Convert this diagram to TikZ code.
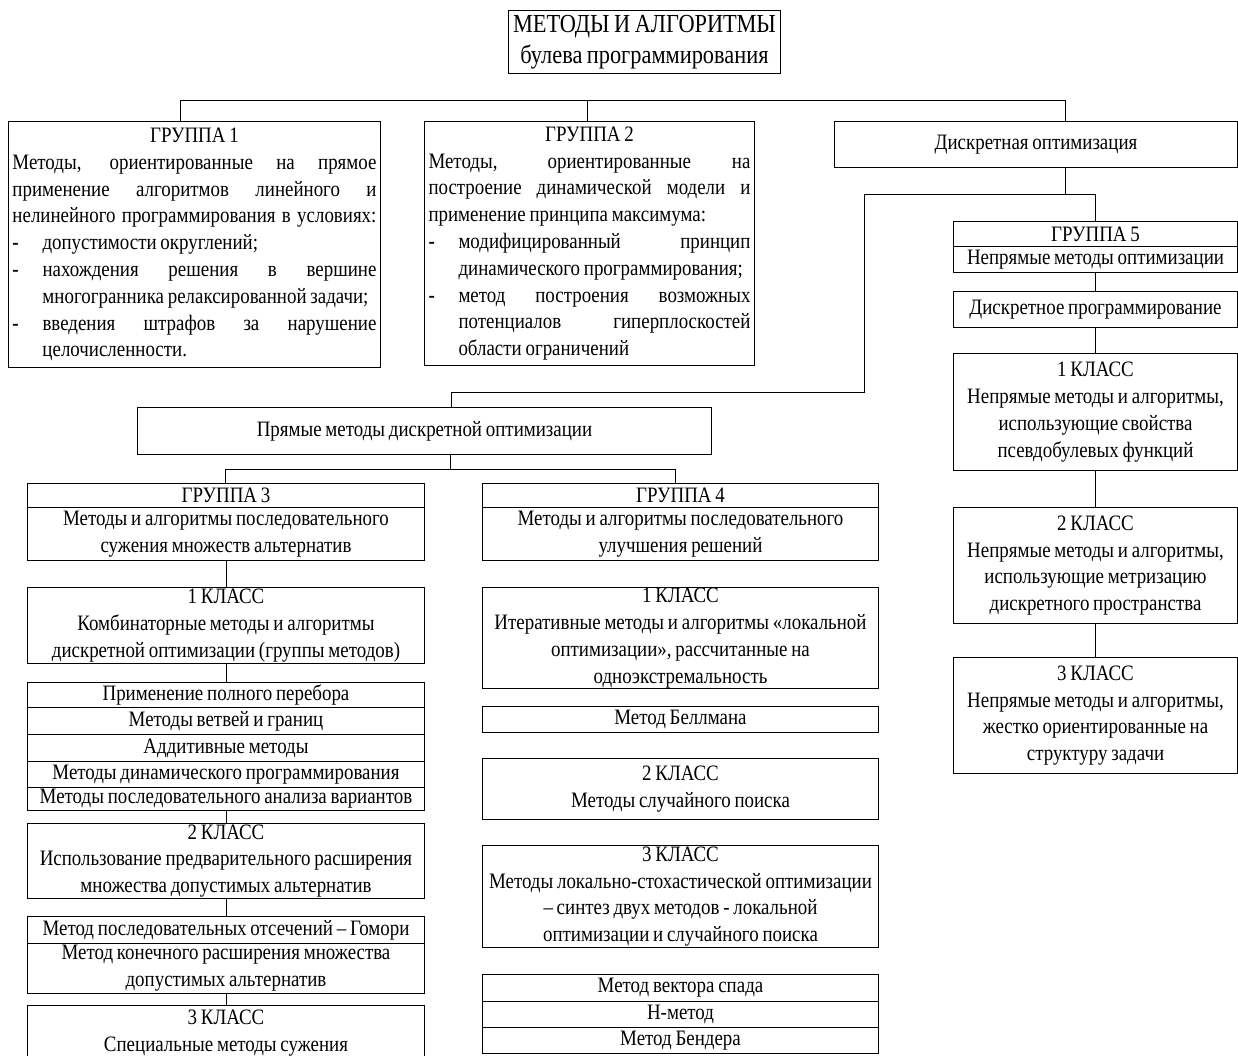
\documentclass[tikz,border=0pt]{standalone}
\usepackage{fontspec}
\setmainfont{Liberation Serif}[FakeStretch=0.86,WordSpace=0.8]
\newcommand\fs{\fontsize{22}{26.8}\selectfont}
\newcommand\fst{\fontsize{26}{31}\selectfont}
\newcommand\J[2]{{\spaceskip=4pt plus 1fil\xspaceskip=\spaceskip\makebox[#1pt][s]{#2}}}
\newcommand\Ln[1]{\mbox{#1}}
\newcommand\D{\makebox[30pt][l]{\textbf{-}}}
\newcommand\bx[6]{\node[box, minimum width={#4-#2}, minimum height={#5-#3}] (#1) at (#2,#3) {#6};}
\begin{document}
\begin{tikzpicture}[x=1pt,y=-1pt,
  box/.style={draw, line width=1pt, inner sep=0pt, align=center, font=\fs, anchor=north west},
  ln/.style={line width=1pt}]
\useasboundingbox (0,0) rectangle (1238,1055);
\clip (0,0) rectangle (1238,1055);
\fill[white] (0,0) rectangle (1238,1055);

% title
\node[box, font=\fst, minimum width=272, minimum height=63] (title) at (508,10)
  {МЕТОДЫ И АЛГОРИТМЫ\\булева программирования};

% group 1
\node[box, minimum width=372, minimum height=246, text width=364, align=left] (g1) at (8,121) {%
\spaceskip=0pt\xspaceskip=0pt
\makebox[364pt]{ГРУППА 1}\\
\J{364}{Методы, ориентированные на прямое}\\
\J{364}{применение алгоритмов линейного и}\\
\J{364}{нелинейного программирования в условиях:}\\
\D\Ln{допустимости округлений;}\\
\D\J{334}{нахождения решения в вершине}\\
\hspace*{30pt}\Ln{многогранника релаксированной задачи;}\\
\D\J{334}{введения штрафов за нарушение}\\
\hspace*{30pt}\Ln{целочисленности.}};

% group 2
\node[box, minimum width=330, minimum height=244, text width=322, align=left] (g2) at (424,121) {%
\spaceskip=0pt\xspaceskip=0pt
\makebox[322pt]{ГРУППА 2}\\
\J{322}{Методы, ориентированные на}\\
\J{322}{построение динамической модели и}\\
\Ln{применение принципа максимума:}\\
\D\J{292}{модифицированный принцип}\\
\hspace*{30pt}\Ln{динамического программирования;}\\
\D\J{292}{метод построения возможных}\\
\hspace*{30pt}\J{292}{потенциалов гиперплоскостей}\\
\hspace*{30pt}\Ln{области ограничений}};

% right column
\bx{dopt}{834}{121}{1237}{167}{Дискретная оптимизация}
\bx{g5h}{953}{221}{1237}{246}{ГРУППА 5}
\bx{g5b}{953}{246}{1237}{272}{Непрямые методы оптимизации}
\bx{dpr}{953}{291}{1237}{327}{Дискретное программирование}
\bx{r1}{953}{353}{1237}{470}{1 КЛАСС\\Непрямые методы и алгоритмы,\\использующие свойства\\псевдобулевых функций}
\bx{r2}{953}{507}{1237}{623}{2 КЛАСС\\Непрямые методы и алгоритмы,\\использующие метризацию\\дискретного пространства}
\bx{r3}{953}{657}{1237}{773}{3 КЛАСС\\Непрямые методы и алгоритмы,\\жестко ориентированные на\\структуру задачи}

% direct methods
\bx{pr}{137}{407}{711}{454}{Прямые методы дискретной оптимизации}

% left column
\bx{g3h}{27}{483}{424}{507}{ГРУППА 3}
\bx{g3b}{27}{507}{424}{560}{Методы и алгоритмы последовательного\\сужения множеств альтернатив}
\bx{l1}{27}{587}{424}{663}{1 КЛАСС\\Комбинаторные методы и алгоритмы\\дискретной оптимизации (группы методов)}
\bx{la}{27}{682}{424}{707}{Применение полного перебора}
\bx{lb}{27}{707}{424}{734}{Методы ветвей и границ}
\bx{lc}{27}{734}{424}{761}{Аддитивные методы}
\bx{ld}{27}{761}{424}{787}{Методы динамического программирования}
\bx{le}{27}{787}{424}{810}{Методы последовательного анализа вариантов}
\bx{l2}{27}{823}{424}{898}{2 КЛАСС\\Использование предварительного расширения\\множества допустимых альтернатив}
\bx{lf}{27}{916}{424}{943}{Метод последовательных отсечений – Гомори}
\bx{lg}{27}{943}{424}{993}{Метод конечного расширения множества\\допустимых альтернатив}
\bx{l3}{27}{1005}{424}{1060}{3 КЛАСС\\Специальные методы сужения}

% middle column
\bx{g4h}{482}{483}{878}{507}{ГРУППА 4}
\bx{g4b}{482}{507}{878}{560}{Методы и алгоритмы последовательного\\улучшения решений}
\bx{m1}{482}{587}{878}{688}{1 КЛАСС\\Итеративные методы и алгоритмы «локальной\\оптимизации», рассчитанные на\\одноэкстремальность}
\bx{mb}{482}{706}{878}{732}{Метод Беллмана}
\bx{m2}{482}{758}{878}{819}{2 КЛАСС\\Методы случайного поиска}
\bx{m3}{482}{845}{878}{947}{3 КЛАСС\\Методы локально-стохастической оптимизации\\– синтез двух методов - локальной\\оптимизации и случайного поиска}
\bx{ma}{482}{974}{878}{1001}{Метод вектора спада}
\bx{mh}{482}{1001}{878}{1027}{Н-метод}
\bx{mc}{482}{1027}{878}{1053}{Метод Бендера}

% junction coordinates
\coordinate (busL) at (180,100);
\coordinate (busM) at (587,100);
\coordinate (busR) at (1065,100);
\coordinate (j1) at (1065,194);
\coordinate (j2) at (864,194);
\coordinate (j3) at (1095,194);
\coordinate (j4) at (864,392);
\coordinate (j5) at (451,392);
\coordinate (k1) at (450,469);
\coordinate (k2) at (225,469);
\coordinate (k3) at (675,469);

% connectors
\draw[ln] (busL) -- (busR);
\draw[ln] (busL) -- (busL |- g1.north);
\draw[ln] (busM) -- (busM |- g2.north);
\draw[ln] (busR) -- (busR |- dopt.north);
\draw[ln] (j1 |- dopt.south) -- (j1);
\draw[ln] (j2) -- (j3) -- (j3 |- g5h.north);
\draw[ln] (j2) -- (j4) -- (j5) -- (j5 |- pr.north);
\draw[ln] (g5b.south) -- (dpr.north);
\draw[ln] (dpr.south) -- (r1.north);
\draw[ln] (r1.south) -- (r2.north);
\draw[ln] (r2.south) -- (r3.north);
\draw[ln] (k1 |- pr.south) -- (k1);
\draw[ln] (k2) -- (k3);
\draw[ln] (k2) -- (k2 |- g3h.north);
\draw[ln] (k3) -- (k3 |- g4h.north);
\draw[ln] (g3b.south) -- (l1.north);
\draw[ln] (l1.south) -- (la.north);
\draw[ln] (le.south) -- (l2.north);
\draw[ln] (l2.south) -- (lf.north);
\draw[ln] (lg.south) -- (l3.north);
\end{tikzpicture}
\end{document}
